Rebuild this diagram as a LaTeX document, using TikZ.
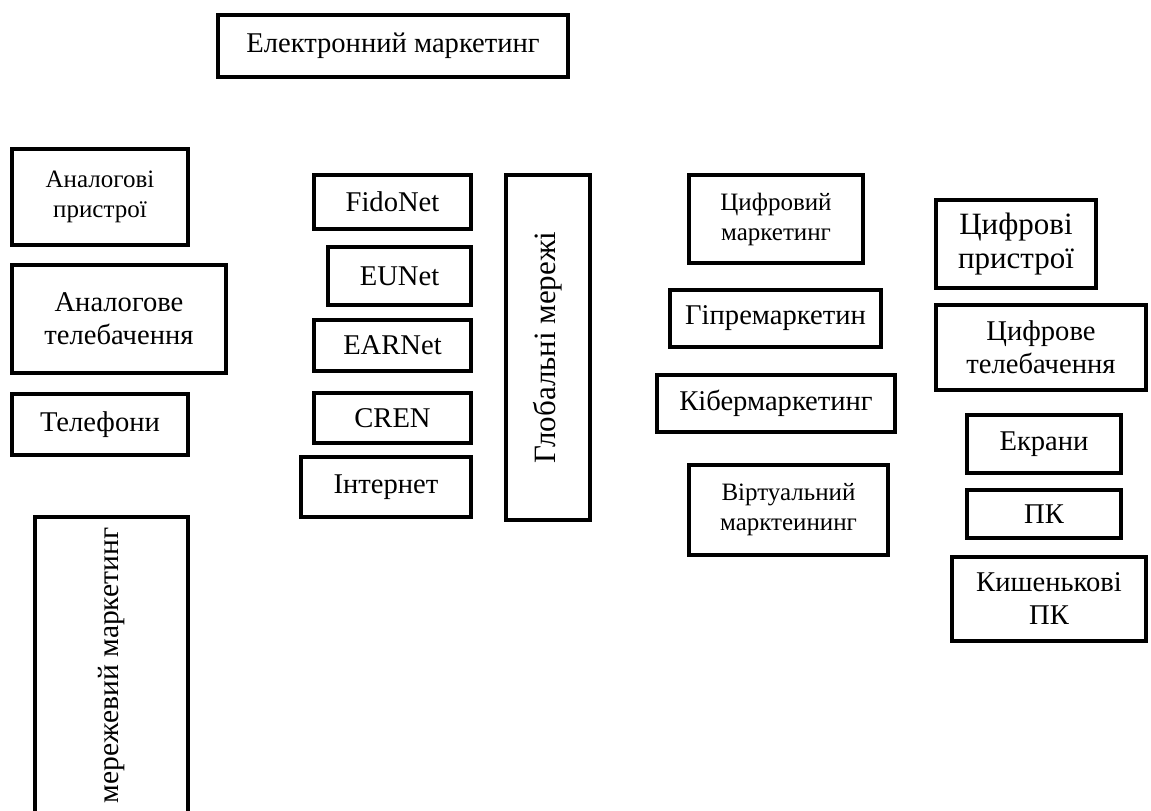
\documentclass[tikz,border=0pt]{standalone}
\usepackage{fontspec}
\setmainfont{Liberation Serif}
\usepackage{tikz}
\usetikzlibrary{positioning}

\begin{document}
\begin{tikzpicture}[
    x=0.5pt, y=-0.5pt,
    box/.style={draw, line width=2.3pt, align=center, inner sep=0pt,
                font=\fontsize{14.3}{16.5}\selectfont},
    sbox/.style={box, font=\fontsize{12.5}{15}\selectfont},
    bbox/.style={box, font=\fontsize{15.5}{17}\selectfont},
    sz/.style 2 args={minimum width=#1*0.5pt, minimum height=#2*0.5pt},
  ]

  \useasboundingbox (0,0) rectangle (1151,810);

  % -- Top
  \node[box, sz={350}{62}] (elm) at (393,46) {Електронний маркетинг};

  % -- Analog column
  \node[sbox, sz={176}{96}] (anpr) at (100,197) {Аналогові\\пристрої};
  \node[box, sz={214}{108}] (antv) at (119,319) {Аналогове\\телебачення};
  \node[box, sz={176}{61}] (tel) at (100,424.5) {Телефони};
  \node[box, sz={297}{153}, rotate=90,
        font=\fontsize{14.8}{17}\selectfont] (merm) at (111.5,665.5)
    {мережевий маркетинг};

  % -- Networks
  \node[box, sz={157}{54}] (fido) at (392.5,202) {FidoNet};
  \node[box, sz={143}{58}] (eun) at (399.5,276) {EUNet};
  \node[box, sz={157}{51}] (earn) at (392.5,345.5) {EARNet};
  \node[box, sz={157}{50}] (cren) at (392.5,418) {CREN};
  \node[box, sz={170}{60}] (inet) at (386,487) {Інтернет};
  \node[bbox, sz={345}{84}, rotate=90] (glob) at (548,347.5)
    {Глобальні мережі};

  % -- Marketing kinds
  \node[sbox, sz={174}{88}] (cifm) at (776,219) {Цифровий\\маркетинг};
  \node[box, sz={211}{57}] (gip) at (775.5,318.5) {Гіпремаркетин};
  \node[box, sz={238}{57}] (kib) at (776,403.5) {Кібермаркетинг};
  \node[sbox, sz={199}{90}] (virt) at (788.5,510)
    {Віртуальний\\марктеининг};

  % -- Digital column
  \node[bbox, sz={160}{88}] (cifp) at (1016,244) {Цифрові\\пристрої};
  \node[box, sz={210}{85}] (ciftv) at (1041,347.5) {Цифрове\\телебачення};
  \node[box, sz={154}{58}] (ekr) at (1044,444) {Екрани};
  \node[box, sz={154}{48}] (pk) at (1044,514) {ПК};
  \node[box, sz={194}{84}] (kpk) at (1049,599) {Кишенькові\\ПК};

\end{tikzpicture}
\end{document}
